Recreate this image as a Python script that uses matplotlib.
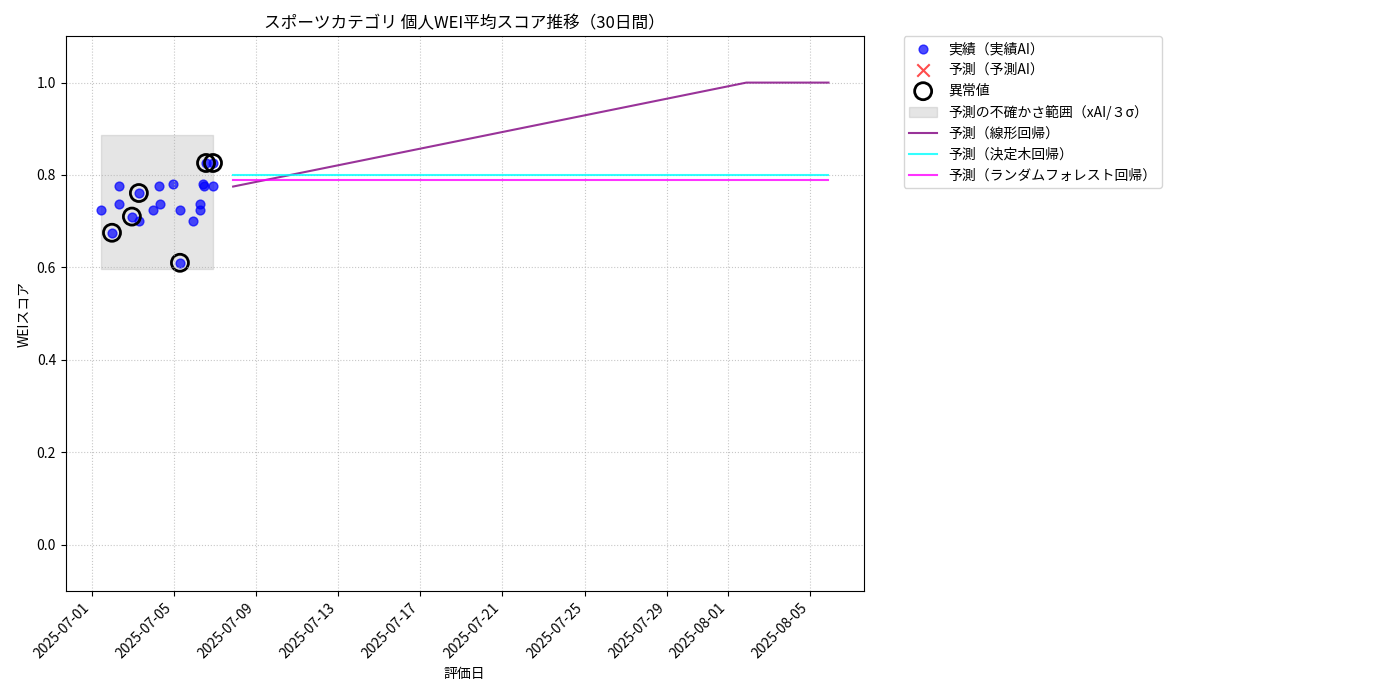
import numpy as np
import pandas as pd
import matplotlib
matplotlib.use("Agg")
import matplotlib.pyplot as plt
import matplotlib.dates as mdates

plt.rcParams['font.family'] = ['Noto Sans CJK JP', 'DejaVu Sans']

base = pd.Timestamp("2025-07-01")
# actual observations: day offsets from 2025-07-01 and scores
obs_days = [0.44, 0.98, 1.32, 1.32, 1.95, 2.29, 2.29, 2.98, 3.27, 3.32, 3.95, 4.29, 4.29,
            4.93, 5.27, 5.27, 5.41, 5.46, 5.56, 5.90, 5.90]
obs_vals = [0.724, 0.675, 0.777, 0.737, 0.710, 0.700, 0.761, 0.724, 0.777, 0.737, 0.781,
            0.724, 0.610, 0.700, 0.737, 0.724, 0.781, 0.777, 0.826, 0.826, 0.777]
anom_days = [0.98, 1.95, 2.29, 4.29, 5.56, 5.90]
anom_vals = [0.675, 0.710, 0.761, 0.610, 0.826, 0.826]

band_lo, band_hi = 0.597, 0.886
fc_start = 6.88
n_fc = 30
lin_vals = [0.775 + 0.009 * i for i in range(n_fc)]
lin_vals = [min(v, 1.0) for v in lin_vals]
tree_vals = [0.80] * n_fc
rf_vals = [0.79] * n_fc

obs_t = [base + pd.Timedelta(days=d) for d in obs_days]
anom_t = [base + pd.Timedelta(days=d) for d in anom_days]
fc_t = [base + pd.Timedelta(days=fc_start + i) for i in range(n_fc)]

fig = plt.figure(figsize=(14, 7), dpi=100)
ax = fig.add_axes([0.047, 0.156, 0.57, 0.792])

ax.fill_between([min(obs_t), max(obs_t)], band_lo, band_hi, color='gray', alpha=0.2,
                label='予測の不確かさ範囲（xAI/３σ）')
ax.scatter(obs_t, obs_vals, color='blue', alpha=0.7, s=40, label='実績（実績AI）')
ax.scatter([], [], color='red', marker='x', s=80, alpha=0.7, label='予測（予測AI）')
ax.scatter(anom_t, anom_vals, facecolors='none', edgecolors='black', s=150, linewidths=2,
           label='異常値')
ax.plot(fc_t, lin_vals, color='purple', alpha=0.8, label='予測（線形回帰）')
ax.plot(fc_t, tree_vals, color='cyan', alpha=0.8, label='予測（決定木回帰）')
ax.plot(fc_t, rf_vals, color='magenta', alpha=0.8, label='予測（ランダムフォレスト回帰）')

ax.set_xlim(base - pd.Timedelta(days=1.27), base + pd.Timedelta(days=37.6))
ax.set_ylim(-0.1, 1.1)
ticks = pd.to_datetime(["2025-07-01", "2025-07-05", "2025-07-09", "2025-07-13", "2025-07-17",
                        "2025-07-21", "2025-07-25", "2025-07-29", "2025-08-01", "2025-08-05"])
ax.set_xticks(ticks)
ax.xaxis.set_major_formatter(mdates.DateFormatter('%Y-%m-%d'))
plt.setp(ax.get_xticklabels(), rotation=45, ha='right')
ax.grid(True, linestyle=':', alpha=0.7)
ax.set_title('スポーツカテゴリ 個人WEI平均スコア推移（30日間）')
ax.set_xlabel('評価日')
ax.set_ylabel('WEIスコア')

h, l = ax.get_legend_handles_labels()
order = [1, 2, 3, 0, 4, 5, 6]
ax.legend([h[i] for i in order], [l[i] for i in order], loc='upper left',
          bbox_to_anchor=(1.05, 1.0), borderaxespad=0.)
fig.savefig('out.png')
